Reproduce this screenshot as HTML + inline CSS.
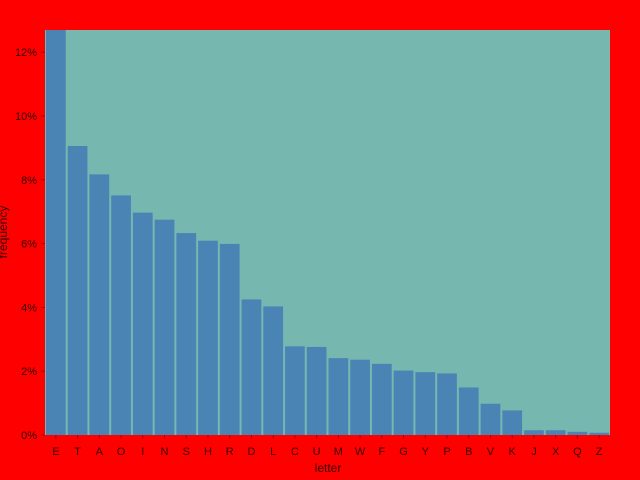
<!DOCTYPE html>
<html><head><meta charset="utf-8"><style>
body{margin:0;background:#f00;}
svg{display:block;font-family:"Liberation Sans",sans-serif;}
</style></head><body>
<svg id="chart" width="640" height="480">
<rect width="640" height="480" fill="#ff0000"/>
<defs><clipPath id="clip"><rect x="45" y="30" width="565" height="405"/></clipPath></defs>
<rect x="45" y="30" width="565" height="405" fill="#76b7b0"/>
<g id="bars" clip-path="url(#clip)"></g>
<g id="yaxis"></g>
<g id="xaxis"></g>
<text x="328" y="472" text-anchor="middle" font-size="12" fill="#300">letter</text>
<text transform="translate(7,232) rotate(-90)" text-anchor="middle" font-size="12" fill="#300">frequency</text>
</svg>
<script>
const letters=["E","T","A","O","I","N","S","H","R","D","L","C","U","M","W","F","G","Y","P","B","V","K","J","X","Q","Z"];
const freqs=[12.70,9.06,8.17,7.51,6.97,6.75,6.33,6.09,5.99,4.25,4.03,2.78,2.76,2.41,2.36,2.23,2.02,1.97,1.93,1.49,0.98,0.77,0.15,0.15,0.10,0.07];
const yTicks=[0,2,4,6,8,10,12];
const NS="http://www.w3.org/2000/svg";
const x0=45,x1=610,y0=435,pxPer=31.9;
const step=(x1-x0)/letters.length;
const xs=i=>x0+i*step;
const ys=v=>y0-v*pxPer;
const bars=document.getElementById('bars'),ya=document.getElementById('yaxis'),xa=document.getElementById('xaxis');
letters.forEach((l,i)=>{
 const r=document.createElementNS(NS,'rect');
 r.setAttribute('x',xs(i)+1);r.setAttribute('width',step-2);
 r.setAttribute('y',ys(freqs[i]));r.setAttribute('height',y0-ys(freqs[i]));
 r.setAttribute('fill','#4a84b4');
 
 
 bars.appendChild(r);
 const t=document.createElementNS(NS,'text');
 t.setAttribute('x',xs(i)+step/2);t.setAttribute('y',455);
 t.setAttribute('text-anchor','middle');t.setAttribute('font-size','11');t.setAttribute('fill','#300');
 t.textContent=l;
 
 
 xa.appendChild(t);
 const tk=document.createElementNS(NS,'line');
 tk.setAttribute('x1',xs(i)+step/2);tk.setAttribute('x2',xs(i)+step/2);tk.setAttribute('y1',435);tk.setAttribute('y2',439);
 tk.setAttribute('stroke','#a00');
 
 
 xa.appendChild(tk);
});
yTicks.forEach(v=>{
 const t=document.createElementNS(NS,'text');
 t.setAttribute('x',37);t.setAttribute('y',ys(v)+4);
 t.setAttribute('text-anchor','end');t.setAttribute('font-size','11');t.setAttribute('fill','#300');
 t.textContent=v+'%';
 
 
 ya.appendChild(t);
 const tk=document.createElementNS(NS,'line');
 tk.setAttribute('x1',41);tk.setAttribute('x2',45);tk.setAttribute('y1',ys(v));tk.setAttribute('y2',ys(v));
 tk.setAttribute('stroke','#a00');
 
 
 ya.appendChild(tk);
});
</script>
</body></html>
